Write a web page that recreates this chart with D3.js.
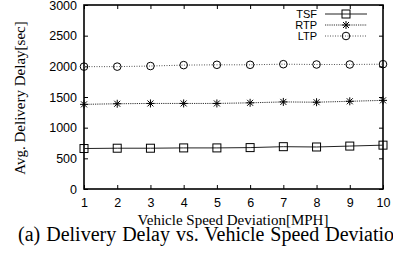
<!DOCTYPE html>
<html><head><meta charset="utf-8">
<script src="https://cdn.jsdelivr.net/npm/d3@7"></script>
<style>body{margin:0;background:#fff;overflow:hidden;}svg{display:block;}</style>
</head><body>
<svg id="c" width="393" height="254"></svg>
<script>
const speeds = [1,2,3,4,5,6,7,8,9,10];
const tsf = [660,665,665,670,670,675,690,685,700,715];
const rtp = [1380,1390,1395,1395,1395,1405,1420,1415,1430,1445];
const ltp = [1995,1995,2005,2020,2025,2025,2035,2030,2030,2035];
const yTicks = [0,500,1000,1500,2000,2500,3000];
const seriesNames = ["TSF","RTP","LTP"];

const SANS = "'Liberation Sans', Arial, Helvetica, sans-serif";
const SERIF = "'Liberation Serif', 'Times New Roman', Times, serif";

const svg = d3.select("#c");
const L=84,R=383,T=5,B=189;
const x = d3.scaleLinear().domain([1,10]).range([L,R]);
const y = d3.scaleLinear().domain([0,3000]).range([B,T]);

const g = svg.append("g");
g.append("g").attr("transform",`translate(0,${B})`)
  .call(d3.axisBottom(x).tickValues(speeds).tickSize(-4).tickPadding(9).tickFormat(d3.format("d")))
  .call(a=>a.select(".domain").remove());
g.append("g").attr("transform",`translate(0,${T})`)
  .call(d3.axisTop(x).tickValues(speeds).tickSize(-4).tickFormat(""))
  .call(a=>a.select(".domain").remove());
g.append("g").attr("transform",`translate(${L},0)`)
  .call(d3.axisLeft(y).tickValues(yTicks).tickSize(-4).tickPadding(7).tickFormat(d3.format("d")))
  .call(a=>a.select(".domain").remove());
g.append("g").attr("transform",`translate(${R},0)`)
  .call(d3.axisRight(y).tickValues(yTicks).tickSize(-4).tickFormat(""))
  .call(a=>a.select(".domain").remove());
g.selectAll(".tick line").attr("stroke","#000").attr("stroke-width",1);
g.selectAll(".tick text").style("font-family",SANS).style("font-size","12.5px").attr("fill","#000");

svg.append("rect").attr("x",L).attr("y",T).attr("width",R-L).attr("height",B-T)
  .attr("fill","none").attr("stroke","#000").attr("stroke-width",1.6);

const styles = [
  {data:tsf, dash:null, color:"#222", w:1},
  {data:rtp, dash:"1.2,1", color:"#333", w:1},
  {data:ltp, dash:"1,1.5", color:"#555", w:1}
];
const line = d3.line().x((d,i)=>x(speeds[i])).y(d=>y(d));
styles.forEach(s=>{
  svg.append("path").attr("d",line(s.data)).attr("fill","none")
    .attr("stroke",s.color).attr("stroke-width",s.w).attr("stroke-dasharray",s.dash);
});

function marker(sel, type, cx, cy){
  if(type===0){
    sel.append("rect").attr("x",cx-4).attr("y",cy-4).attr("width",8).attr("height",8)
      .attr("fill","none").attr("stroke","#000").attr("stroke-width",1);
  } else if(type===1){
    const r=4;
    [[-r,0,r,0],[0,-r,0,r],[-r*0.75,-r*0.75,r*0.75,r*0.75],[-r*0.75,r*0.75,r*0.75,-r*0.75]].forEach(l=>{
      sel.append("line").attr("x1",cx+l[0]).attr("y1",cy+l[1]).attr("x2",cx+l[2]).attr("y2",cy+l[3])
        .attr("stroke","#000").attr("stroke-width",1);
    });
  } else {
    sel.append("circle").attr("cx",cx).attr("cy",cy).attr("r",3.8)
      .attr("fill","none").attr("stroke","#000").attr("stroke-width",1);
  }
}
styles.forEach((s,k)=>{
  const mg = svg.append("g");
  s.data.forEach((v,i)=>marker(mg,k,x(speeds[i]),y(v)));
});

// legend
seriesNames.forEach((n,k)=>{
  const yy = 14 + k*11;
  svg.append("text").attr("x",317).attr("y",yy+4).attr("text-anchor","end")
    .style("font-family",SANS).style("font-size","11px").text(n);
  svg.append("line").attr("x1",325).attr("x2",367).attr("y1",yy).attr("y2",yy)
    .attr("stroke",styles[k].color).attr("stroke-width",1).attr("stroke-dasharray",styles[k].dash);
  marker(svg.append("g"),k,346,yy);
});

svg.append("text").attr("transform",`translate(25,98) rotate(-90)`).attr("text-anchor","middle")
  .style("font-family",SERIF).style("font-size","15px").text("Avg. Delivery Delay[sec]");
svg.append("text").attr("x",233).attr("y",225).attr("text-anchor","middle")
  .style("font-family",SERIF).style("font-size","15px").text("Vehicle Speed Deviation[MPH]");
svg.append("text").attr("x",18).attr("y",241)
  .style("font-family",SERIF).style("font-size","20px").style("word-spacing","1px")
  .text("(a) Delivery Delay vs. Vehicle Speed Deviation");
</script>
</body></html>
